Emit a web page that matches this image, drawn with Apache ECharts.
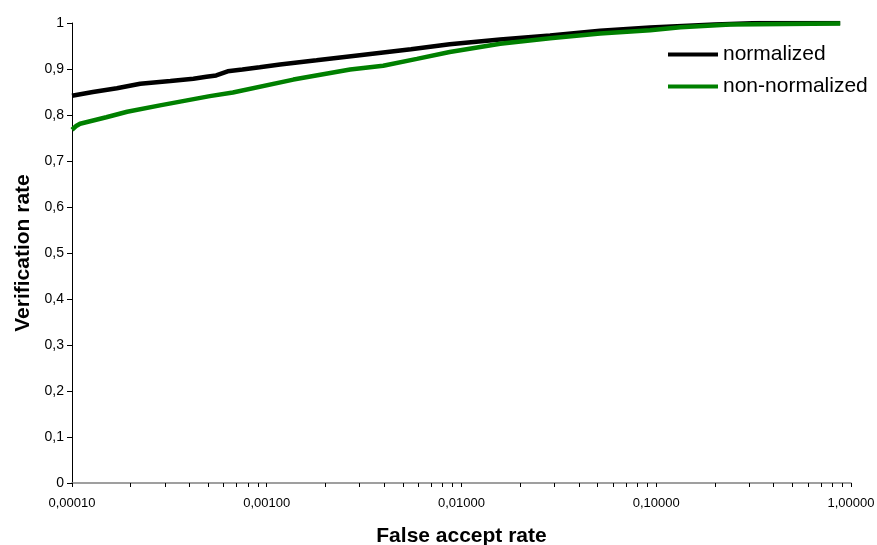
<!DOCTYPE html>
<html>
<head>
<meta charset="utf-8">
<script src="https://cdn.jsdelivr.net/npm/echarts@6/dist/echarts.min.js"></script>
<style>html,body{margin:0;padding:0;background:#fff}#c{width:877px;height:545px}</style>
</head>
<body>
<div id="c"></div>
<script>
var seriesNames = ['normalized', 'non-normalized'];
var normalizedFAR = [1e-4, 1.28e-4, 1.7e-4, 2.24e-4, 3.2e-4, 4.2e-4, 4.9e-4, 5.5e-4, 6.3e-4, 7.5e-4, 9.2e-4, 1.17e-3, 1.8e-3, 3.0e-3, 5.5e-3, 8.7e-3, 0.0158, 0.0285, 0.0515, 0.093, 0.2, 0.34, 0.88];
var normalizedVR  = [0.842, 0.850, 0.858, 0.868, 0.874, 0.879, 0.883, 0.886, 0.895, 0.899, 0.904, 0.910, 0.919, 0.930, 0.943, 0.954, 0.964, 0.973, 0.983, 0.990, 0.997, 1.000, 1.000];
var nonNormFAR = [1e-4, 1.05e-4, 1.1e-4, 1.5e-4, 1.92e-4, 2.83e-4, 5.1e-4, 6.7e-4, 1.37e-3, 2.68e-3, 3.96e-3, 5.9e-3, 8.7e-3, 0.0158, 0.0285, 0.0515, 0.093, 0.133, 0.24, 0.88];
var nonNormVR  = [0.768, 0.776, 0.781, 0.795, 0.807, 0.821, 0.841, 0.849, 0.877, 0.899, 0.907, 0.922, 0.937, 0.955, 0.967, 0.977, 0.984, 0.991, 0.997, 0.999];
var xMajorTicks = [1e-4, 1e-3, 1e-2, 1e-1, 1];
var xAllTicks = [];
xMajorTicks.forEach(function (d, i) {
  if (i < xMajorTicks.length - 1) { for (var k = 1; k < 10; k++) xAllTicks.push(d * k); }
  else xAllTicks.push(d);
});

function pairs(xs, ys) { return xs.map(function (x, i) { return [x, ys[i]]; }); }

var FONT = 'Liberation Sans, Arial, sans-serif';
var chart = echarts.init(document.getElementById('c'), null, {renderer: 'canvas'});
chart.setOption({
  animation: false,
  backgroundColor: '#fff',
  grid: {left: 72, right: 26, top: 23, bottom: 62, containLabel: false, outerBoundsMode: 'none'},
  legend: {
    left: 663, top: 39, orient: 'vertical', itemWidth: 50, itemHeight: 4, itemGap: 11,
    icon: 'rect',
    textStyle: {fontFamily: FONT, fontSize: 21, color: '#000', padding: [0,0,0,0]},
    data: seriesNames
  },
  xAxis: {
    type: 'log', logBase: 10, min: 1e-4, max: 1,
    name: 'False accept rate', nameLocation: 'middle', nameGap: 43,
    nameTextStyle: {fontFamily: FONT, fontSize: 21, fontWeight: 'bold', color: '#000'},
    axisLine: {lineStyle: {color: '#808080', width: 1.5}},
    axisTick: {show: true, length: 4, inside: false, lineStyle: {color: '#000'}, customValues: xAllTicks},
    axisLabel: {
      customValues: xMajorTicks, margin: 14,
      fontFamily: FONT, fontSize: 13, color: '#000',
      formatter: function (v) { return v.toFixed(5).replace('.', ','); }
    },
    splitLine: {show: false}
  },
  yAxis: {
    type: 'value', min: 0, max: 1, interval: 0.1,
    name: 'Verification rate', nameLocation: 'middle', nameGap: 38,
    nameTextStyle: {fontFamily: FONT, fontSize: 21, fontWeight: 'bold', color: '#000'},
    axisLine: {show: true, lineStyle: {color: '#000', width: 1}},
    axisTick: {show: true, length: 5, lineStyle: {color: '#000'}},
    axisLabel: {
      fontFamily: FONT, fontSize: 14, color: '#000', margin: 8,
      formatter: function (v) { return (Math.round(v * 10) / 10).toString().replace('.', ','); }
    },
    splitLine: {show: false}
  },
  series: [
    {name: seriesNames[0], type: 'line', data: pairs(normalizedFAR, normalizedVR), showSymbol: false, symbol: 'none',
     lineStyle: {color: '#000', width: 4.5}, itemStyle: {color: '#000'}, z: 2},
    {name: seriesNames[1], type: 'line', data: pairs(nonNormFAR, nonNormVR), showSymbol: false, symbol: 'none',
     lineStyle: {color: '#008000', width: 4.5}, itemStyle: {color: '#008000'}, z: 3}
  ]
});
</script>
</body>
</html>
